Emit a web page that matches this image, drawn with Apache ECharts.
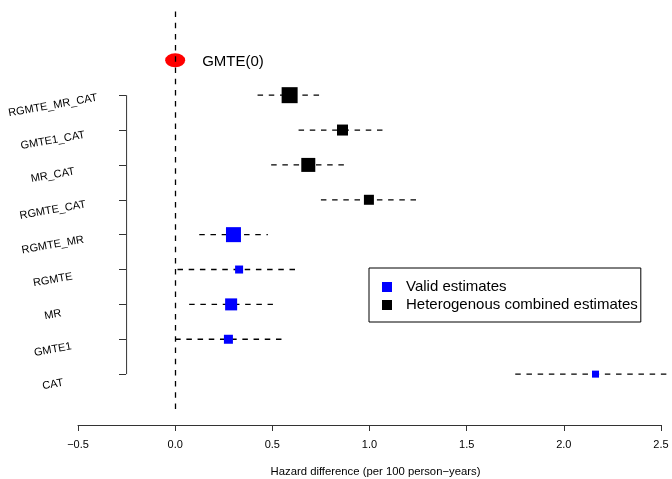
<!DOCTYPE html>
<html>
<head>
<meta charset="utf-8">
<script src="https://cdn.jsdelivr.net/npm/echarts@6/dist/echarts.min.js"></script>
<style>html,body{margin:0;padding:0;background:#fff}#c{width:672px;height:479px}</style>
</head>
<body>
<div id="c"></div>
<script>
// ---- data ----
const categories = ['CAT','GMTE1','MR','RGMTE','RGMTE_MR','RGMTE_CAT','MR_CAT','GMTE1_CAT','RGMTE_MR_CAT'];
const estimates  = [2.163, 0.274, 0.288, 0.329, 0.300, 0.997, 0.685, 0.861, 0.589];
const lowerCI    = [1.750, 0.000, 0.072, 0.012, 0.124, 0.750, 0.494, 0.635, 0.424];
const upperCI    = [2.530, 0.551, 0.503, 0.623, 0.477, 1.244, 0.870, 1.069, 0.741];
const weights    = [7, 9, 12, 8, 15, 10, 14, 11, 16];
const groups     = ['valid','valid','valid','valid','valid','het','het','het','het'];
const refLabel = 'GMTE(0)';
const refValue = 0;
const xTickValues = [-0.5, 0, 0.5, 1, 1.5, 2, 2.5];
const legendNames = {valid: 'Valid estimates', het: 'Heterogenous combined estimates'};
const axisTitle = 'Hazard difference (per 100 person\u2212years)';

// ---- build ----
const positions = categories.map((c, i) => i + 1);
const refPos = categories.length + 1;
const bracketX = -0.25;
const FONT = '"Liberation Sans", Arial, Helvetica, sans-serif';
const dash = [5.5, 5.7];

const ciData = categories.map((c, i) => [lowerCI[i], upperCI[i], positions[i]]);
function pts(g) {
  return categories.map((c, i) => i).filter(i => groups[i] === g)
    .map(i => ({value: [estimates[i], positions[i]], symbolSize: weights[i]}));
}

const chart = echarts.init(document.getElementById('c'), null, {renderer: 'canvas'});
chart.setOption({
  animation: false,
  backgroundColor: '#fff',
  textStyle: {fontFamily: FONT},
  grid: {left: 78, right: 11, top: 8, bottom: 70, containLabel: false, outerBoundsMode: 'none'},
  xAxis: {
    type: 'value', min: xTickValues[0], max: xTickValues[xTickValues.length - 1], interval: 0.5,
    offset: 16,
    axisLine: {show: true, onZero: false, lineStyle: {color: '#333', width: 1}},
    axisTick: {show: true, length: 6, lineStyle: {color: '#333'}},
    splitLine: {show: false},
    axisLabel: {fontSize: 11, color: '#000', margin: 14, fontFamily: FONT,
      formatter: v => (v < 0 ? '\u2212' : '') + Math.abs(v).toFixed(1)},
    name: axisTitle, nameLocation: 'middle', nameGap: 41,
    nameTextStyle: {fontSize: 11.3, color: '#000', fontFamily: FONT, padding: [0, 0, 0, 12]}
  },
  yAxis: {
    type: 'value', min: 0, max: 11.5,
    offset: -48,
    axisLine: {show: false, onZero: false},
    splitLine: {show: false},
    axisTick: {show: true, length: 7, customValues: positions, lineStyle: {color: '#333'}},
    axisLabel: {customValues: positions, formatter: v => categories[Math.round(v) - 1] || '',
      rotate: 10, align: 'center', verticalAlign: 'top', padding: [5, 0, 0, 0], margin: 75,
      fontSize: 11, color: '#000', fontFamily: FONT}
  },
  legend: {
    orient: 'vertical', left: 369, top: 268,
    data: [legendNames.valid, legendNames.het],
    icon: 'rect', itemWidth: 10, itemHeight: 10, itemGap: 0,
    padding: [10, 3, 8, 13],
    borderColor: '#000', borderWidth: 1, borderRadius: 0,
    itemStyle: {opacity: 1},
    textStyle: {fontSize: 15, color: '#000', lineHeight: 18, fontFamily: FONT, padding: [0, 0, 0, 9]}
  },
  series: [
    {
      type: 'line', silent: true, symbol: 'none',
      data: [[bracketX, positions[0]], [bracketX, positions[positions.length - 1]]],
      lineStyle: {color: '#333', width: 1}, z: 1
    },
    {
      type: 'custom', silent: true, z: 2,
      data: ciData,
      encode: {x: [0, 1], y: 2},
      renderItem: function (params, api) {
        const a = api.coord([api.value(0), api.value(2)]);
        const b = api.coord([api.value(1), api.value(2)]);
        return {type: 'line', shape: {x1: a[0], y1: a[1], x2: b[0], y2: b[1]},
          style: {stroke: '#000', lineWidth: 1.3, lineDash: dash}};
      }
    },
    {
      name: legendNames.valid, type: 'scatter', symbol: 'rect', z: 3,
      itemStyle: {color: '#0000ff', opacity: 1}, data: pts('valid')
    },
    {
      name: legendNames.het, type: 'scatter', symbol: 'rect', z: 3,
      itemStyle: {color: '#000000', opacity: 1}, data: pts('het')
    },
    {
      name: refLabel, type: 'scatter', symbol: 'circle', symbolSize: [20, 14], z: 3,
      itemStyle: {color: '#ff0000', opacity: 1},
      data: [[refValue, refPos]],
      label: {show: true, position: 'right', distance: 17, offset: [0, 2], formatter: refLabel,
        fontSize: 15, color: '#000', fontFamily: FONT},
      markLine: {
        silent: true, symbol: ['none', 'none'], label: {show: false},
        lineStyle: {color: '#000', width: 1.3, type: dash},
        data: [{xAxis: refValue}], z: 4
      }
    }
  ]
});
</script>
</body>
</html>
